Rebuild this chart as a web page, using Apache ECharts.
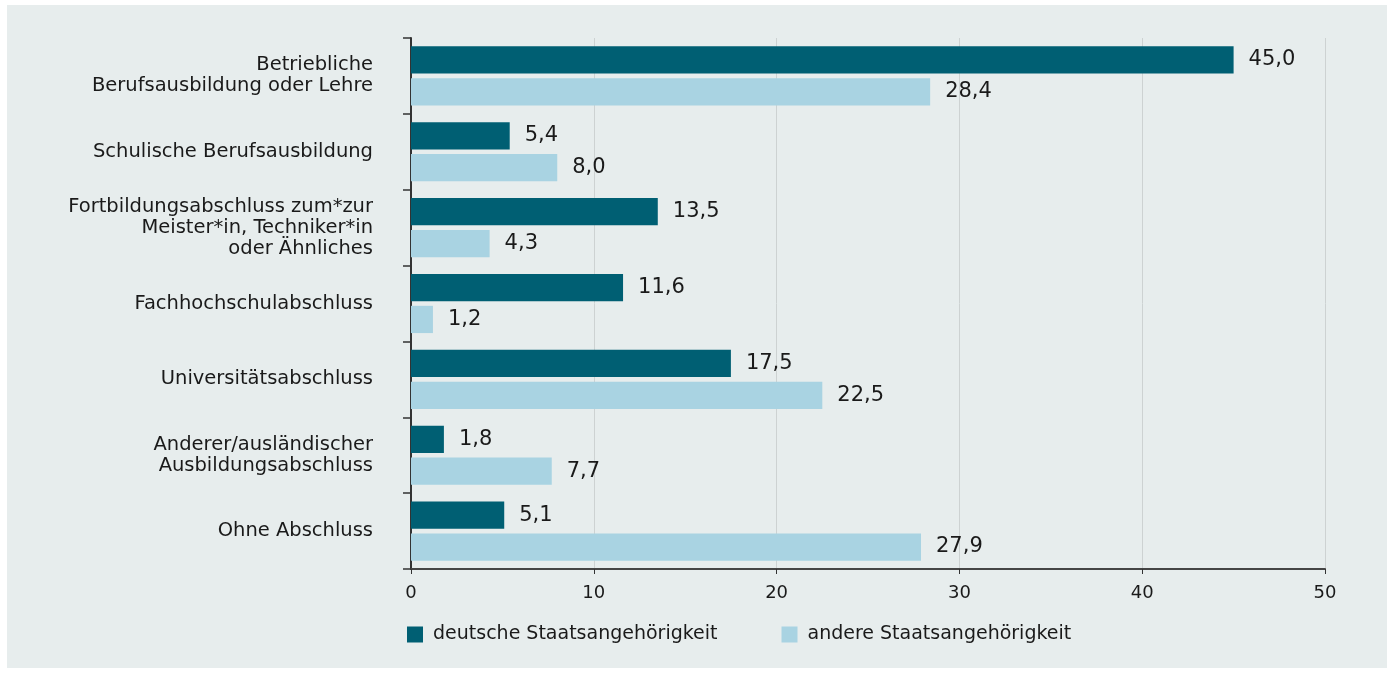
<!DOCTYPE html>
<html>
<head>
<meta charset="utf-8">
<script src="https://cdn.jsdelivr.net/npm/echarts@6/dist/echarts.min.js"></script>
<style>
  html, body { margin: 0; padding: 0; background: #ffffff; }
  #panel { position: absolute; left: 7px; top: 5px; width: 1380px; height: 663px; background: #e7eded; }
  #chart { position: absolute; left: 0; top: 0; width: 1392px; height: 673px; }
</style>
</head>
<body>
<div id="panel"></div>
<div id="chart"></div>
<script>
const categories = [
  'Betriebliche\nBerufsausbildung oder Lehre',
  'Schulische Berufsausbildung',
  'Fortbildungsabschluss zum*zur\nMeister*in, Techniker*in\noder Ähnliches',
  'Fachhochschulabschluss',
  'Universitätsabschluss',
  'Anderer/ausländischer\nAusbildungsabschluss',
  'Ohne Abschluss'
];
const deutsche = [45.0, 5.4, 13.5, 11.6, 17.5, 1.8, 5.1];
const andere = [28.4, 8.0, 4.3, 1.2, 22.5, 7.7, 27.9];
const seriesNames = ['deutsche Staatsangehörigkeit', 'andere Staatsangehörigkeit'];

const font = 'DejaVu Sans';
const textColor = '#1a1a1a';

const fmt = p => p.value.toFixed(1).replace('.', ',');

const chart = echarts.init(document.getElementById('chart'));

const valueLabel = {
  show: true,
  position: 'right',
  distance: 15,
  formatter: fmt,
  fontFamily: font,
  fontSize: 21,
  color: textColor
};

chart.setOption({
  animation: false,
  textStyle: { fontFamily: font },
  grid: { left: 411, right: 67, top: 38, bottom: 104, containLabel: false },
  legend: {
    left: 402,
    top: 620,
    itemWidth: 16,
    itemHeight: 16,
    itemGap: 64,
    icon: 'rect',
    textStyle: { fontFamily: font, fontSize: 19, color: textColor, padding: [0, 0, 0, 5] },
    data: seriesNames
  },
  xAxis: {
    type: 'value',
    min: 0,
    max: 50,
    interval: 10,
    axisLine: { show: true, lineStyle: { color: '#454545', width: 2 } },
    axisTick: { show: true, length: 5, lineStyle: { color: '#333', width: 1 } },
    axisLabel: { fontFamily: font, fontSize: 18, color: textColor, margin: 15 },
    splitLine: { show: true, lineStyle: { color: '#cdd2d2', width: 1 } }
  },
  yAxis: {
    type: 'category',
    inverse: true,
    data: categories,
    axisLine: { show: true, lineStyle: { color: '#333', width: 2 } },
    axisTick: { show: true, length: 8, lineStyle: { color: '#333', width: 1.5 } },
    axisLabel: {
      fontFamily: font,
      fontSize: 19.5,
      lineHeight: 21,
      color: textColor,
      margin: 38,
      align: 'right'
    }
  },
  series: [
    {
      name: seriesNames[0],
      type: 'bar',
      data: deutsche,
      barGap: '17%',
      barCategoryGap: '22%',
      itemStyle: { color: '#005f73' },
      label: valueLabel
    },
    {
      name: seriesNames[1],
      type: 'bar',
      data: andere,
      barGap: '17%',
      barCategoryGap: '22%',
      itemStyle: { color: '#a9d3e2' },
      label: valueLabel
    }
  ]
});
</script>
</body>
</html>
